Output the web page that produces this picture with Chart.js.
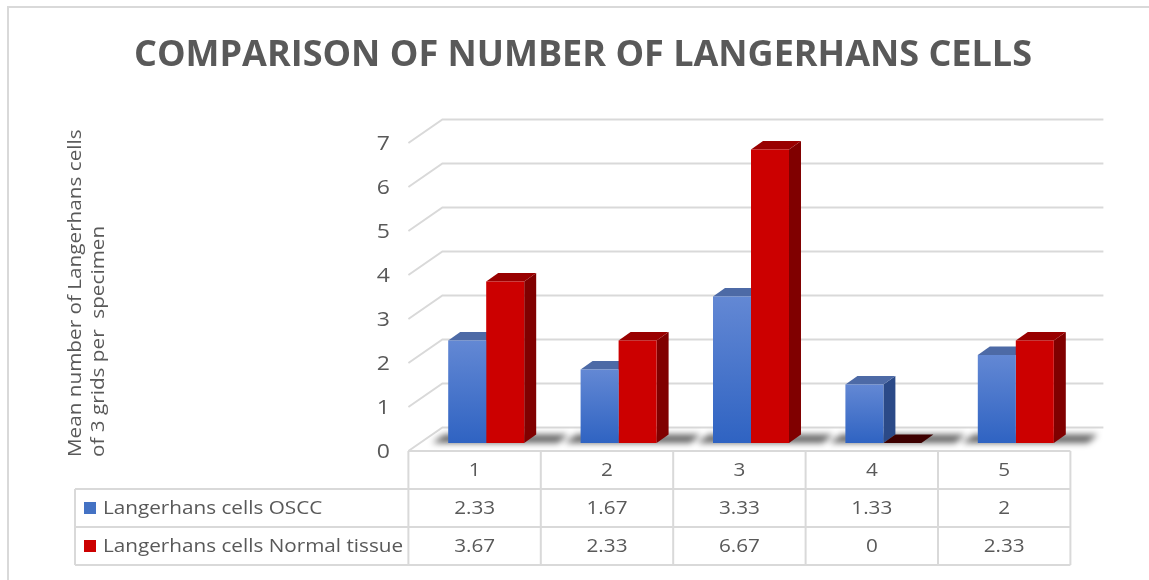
<!DOCTYPE html>
<html>
<head>
<meta charset="utf-8">
<title>Comparison of number of Langerhans cells</title>
<script src="https://cdn.jsdelivr.net/npm/chart.js@4/dist/chart.umd.min.js"></script>
<style>
  html, body { margin: 0; padding: 0; background: #fff; }
  canvas { display: block; }
</style>
</head>
<body>
<canvas id="cellChart" width="1149" height="580"></canvas>
<script>
const categories = ['1', '2', '3', '4', '5'];
const osccValues = [2.33, 1.67, 3.33, 1.33, 2];
const normalValues = [3.67, 2.33, 6.67, 0, 2.33];
const seriesNames = ['Langerhans cells OSCC', 'Langerhans cells Normal tissue'];
const yTicks = [0, 1, 2, 3, 4, 5, 6, 7];

const TEXT = '#595959';
const GRID = '#d9d9d9';
const FONT = '"Open Sans", "Noto Sans", sans-serif';
const STRETCH = 1.15; // body text in the original is a bit wider than Open Sans

// 3d offsets relative to the plane of the bar fronts
const FX = 11.6, FY = 8;     // front of floor
const BX = 22.4, BY = 15.5;  // back wall
const DX = 12, DY = 8.5;     // bar depth

const keyColors = ['#4472c4', '#cc0000'];
const topColors = ['#4d6aa6', '#990000'];
const sideColors = ['#2b4a88', '#800000'];

function frontFill(ctx, light, dark) {
  const ys = ctx.chart.scales.y;
  if (!ys || typeof ctx.raw !== 'number') return dark;
  const top = ys.getPixelForValue(ctx.raw);
  const base = ys.getPixelForValue(0);
  if (!isFinite(top) || !isFinite(base) || base - top < 1) return dark;
  const g = ctx.chart.ctx.createLinearGradient(0, top, 0, base);
  g.addColorStop(0, light);
  g.addColorStop(1, dark);
  return g;
}

function poly(c, pts, fill) {
  c.beginPath();
  c.moveTo(pts[0][0], pts[0][1]);
  for (let i = 1; i < pts.length; i++) c.lineTo(pts[i][0], pts[i][1]);
  c.closePath();
  c.fillStyle = fill;
  c.fill();
}

// text with a small horizontal stretch around its anchor point
function text(c, str, x, y) {
  c.save();
  c.translate(x, y);
  c.scale(STRETCH, 1);
  c.fillText(str, 0, 0);
  c.restore();
}

const walls3d = {
  id: 'walls3d',
  beforeDatasetsDraw(chart) {
    const c = chart.ctx;
    const area = chart.chartArea;
    const ys = chart.scales.y;
    const frontLeft = area.left - FX;
    const backLeft = area.left + BX;
    const backRight = area.right + BX - 1;
    c.save();
    c.strokeStyle = GRID;
    c.lineWidth = 2;
    yTicks.forEach(v => {
      const y = ys.getPixelForValue(v);
      c.beginPath();
      c.moveTo(frontLeft, y + FY);
      c.lineTo(backLeft, y - BY);
      c.lineTo(backRight, y - BY);
      c.stroke();
    });

    // soft shadows on the floor
    const m0 = chart.getDatasetMeta(0).data;
    const m1 = chart.getDatasetMeta(1).data;
    c.filter = 'blur(3px)';
    m0.forEach((el, i) => {
      const x0 = el.x - el.width / 2;
      const x2 = m1[i].x + m1[i].width / 2;
      const b = el.base;
      poly(c, [[x0 - 16, b], [x2 + 34, b], [x2 + 44, b - DY], [x0 - 4, b - DY]], 'rgba(0,0,0,0.6)');
    });
    c.filter = 'none';

    // top and side faces, drawn before the fronts
    [0, 1].forEach(d => {
      chart.getDatasetMeta(d).data.forEach(el => {
        const x0 = el.x - el.width / 2;
        const x1 = el.x + el.width / 2;
        const top = el.y, base = el.base;
        const flat = base - top < 1;
        poly(c, [[x1, top], [x1 + DX, top - DY], [x1 + DX, base - DY], [x1, base]], sideColors[d]);
        poly(c, [[x0, top], [x1, top], [x1 + DX, top - DY], [x0 + DX, top - DY]], flat ? '#3d0000' : topColors[d]);
      });
    });
    c.restore();
  },
  afterDraw(chart) {
    const c = chart.ctx;
    const area = chart.chartArea;
    const ys = chart.scales.y;
    const xs = chart.scales.x;
    const catW = (area.right - area.left) / categories.length;
    const frontLeft = area.left - FX;
    const frontRight = area.right - FX;
    const tableLeft = 75;
    const rowH = 38;
    const r0 = ys.getPixelForValue(0) + FY;
    c.save();

    // frame
    c.strokeStyle = GRID;
    c.lineWidth = 2;
    c.strokeRect(8, 7, 1200, 600);

    // title
    c.fillStyle = TEXT;
    c.font = 'bold 36px ' + FONT;
    c.textAlign = 'center';
    c.textBaseline = 'middle';
    c.fillText('COMPARISON OF NUMBER OF LANGERHANS CELLS', 583, 56);

    // y tick labels on the front plane
    c.font = '20px ' + FONT;
    c.textAlign = 'right';
    yTicks.forEach(v => text(c, String(v), 390, ys.getPixelForValue(v) + FY + 1));

    // y title, two lines, starting at the bottom
    c.font = '18px ' + FONT;
    c.textAlign = 'left';
    const yTitle = ['Mean number of Langerhans cells', 'of 3 grids per  specimen'];
    [76, 99].forEach((x, i) => {
      c.save();
      c.translate(x, 457);
      c.rotate(-Math.PI / 2);
      text(c, yTitle[i], 0, 0);
      c.restore();
    });

    // data table
    c.strokeStyle = GRID;
    c.lineWidth = 2;
    c.beginPath();
    c.moveTo(frontLeft, r0); c.lineTo(frontRight, r0);
    for (let r = 1; r <= 3; r++) {
      c.moveTo(tableLeft, r0 + r * rowH); c.lineTo(frontRight, r0 + r * rowH);
    }
    for (let i = 0; i <= categories.length; i++) {
      const x = frontLeft + i * catW;
      c.moveTo(x, r0); c.lineTo(x, r0 + 3 * rowH);
    }
    c.moveTo(tableLeft, r0 + rowH); c.lineTo(tableLeft, r0 + 3 * rowH);
    c.stroke();

    c.font = '18px ' + FONT;
    c.textAlign = 'center';
    c.fillStyle = TEXT;
    const rows = [osccValues, normalValues];
    categories.forEach((cat, i) => {
      const x = xs.getPixelForValue(i) - FX;
      text(c, cat, x, r0 + rowH / 2 + 1);
      rows.forEach((vals, r) => text(c, String(vals[i]), x, r0 + (r + 1.5) * rowH + 1));
    });
    c.textAlign = 'left';
    seriesNames.forEach((name, r) => {
      const cy = r0 + (r + 1.5) * rowH;
      c.fillStyle = keyColors[r];
      c.fillRect(84, cy - 6, 12, 12);
      c.fillStyle = TEXT;
      text(c, name, 103, cy + 1);
    });
    c.restore();
  }
};

new Chart(document.getElementById('cellChart'), {
  type: 'bar',
  data: {
    labels: categories,
    datasets: [
      {
        label: seriesNames[0],
        data: osccValues,
        backgroundColor: ctx => frontFill(ctx, '#6388d4', '#2f63c2')
      },
      {
        label: seriesNames[1],
        data: normalValues,
        backgroundColor: '#cc0000'
      }
    ]
  },
  options: {
    responsive: false,
    animation: false,
    devicePixelRatio: 1,
    layout: { padding: { left: 420, right: 67, top: 135, bottom: 137 } },
    datasets: { bar: { categoryPercentage: 0.574, barPercentage: 1, borderWidth: 0 } },
    scales: {
      x: { display: false },
      y: { display: false, min: 0, max: 7, ticks: { stepSize: 1 } }
    },
    plugins: {
      legend: { display: false },
      title: { display: false },
      tooltip: { enabled: false }
    }
  },
  plugins: [walls3d]
});
</script>
</body>
</html>
